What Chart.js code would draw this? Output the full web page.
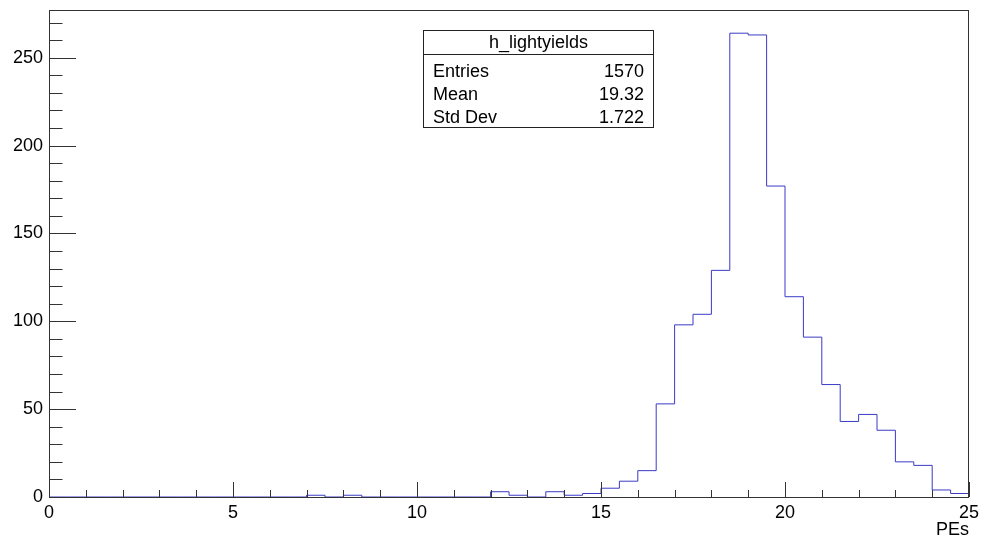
<!DOCTYPE html>
<html>
<head>
<meta charset="utf-8">
<script src="https://cdn.jsdelivr.net/npm/chart.js@4/dist/chart.umd.min.js"></script>
<style>
  html, body { margin: 0; padding: 0; background: #fff; }
  #wrap { width: 984px; height: 541px; position: relative; }
</style>
</head>
<body>
<div id="wrap"><canvas id="hist"></canvas></div>
<script>
// h_lightyields: 50 bins from 0 to 25 PEs
const binLow = 0;
const binWidth = 0.5;
const counts = [
  0, 0, 0, 0, 0, 0, 0, 0, 0, 0,
  0, 0, 0, 0, 1, 0, 1, 0, 0, 0,
  0, 0, 0, 0, 3, 1, 0, 3, 1, 2,
  5, 9, 15, 53, 98, 104, 129, 264, 263, 177,
  114, 91, 64, 43, 47, 38, 20, 18, 4, 2
];
const yTicks = [0, 50, 100, 150, 200, 250];
const xTicks = [0, 5, 10, 15, 20, 25];
const statsTitle = "h_lightyields";
const statsRows = [["Entries", "1570"], ["Mean", "19.32"], ["Std Dev", "1.722"]];

const FONT = "'Liberation Sans', Arial, sans-serif";

// step outline: one point per left bin edge, plus the right edge of the last bin
let points = counts.map((c, i) => ({ x: binLow + i * binWidth, y: c }));
points.push({ x: binLow + counts.length * binWidth, y: counts[counts.length - 1] });

// ROOT style frame, inside ticks and stats box
const rootFrame = {
    id: 'rootFrame',
    afterDraw(chart) {
        const ctx = chart.ctx;
        const a = chart.chartArea;
        const xs = chart.scales.x, ys = chart.scales.y;
        ctx.save();
        ctx.strokeStyle = "#333";
        ctx.lineWidth = 1;
        ctx.strokeRect(a.left + 0.5, a.top + 0.5, a.right - a.left - 1, a.bottom - a.top);

        ctx.beginPath();
        for (let v = 0; v <= 25; v += 1) {
            let px = Math.round(xs.getPixelForValue(v)) + 0.5;
            let len = (v % 5 === 0) ? 15 : 7;
            ctx.moveTo(px, a.bottom);
            ctx.lineTo(px, a.bottom - len);
        }
        for (let v = 0; v <= 270; v += 10) {
            let py = Math.round(ys.getPixelForValue(v)) + 0.5;
            let len = (v % 50 === 0) ? 27 : 13.5;
            ctx.moveTo(a.left, py);
            ctx.lineTo(a.left + len, py);
        }
        ctx.stroke();

        // stats box
        const bx = 423.5, by = 30.5, bw = 230, bh = 97;
        ctx.fillStyle = "#fff";
        ctx.fillRect(bx, by, bw, bh);
        ctx.strokeStyle = "#222";
        ctx.strokeRect(bx, by, bw, bh);
        ctx.beginPath();
        ctx.moveTo(bx, 54.5);
        ctx.lineTo(bx + bw, 54.5);
        ctx.stroke();
        ctx.fillStyle = "#000";
        ctx.font = "18px " + FONT;
        ctx.textBaseline = "alphabetic";
        ctx.textAlign = "center";
        ctx.fillText(statsTitle, bx + bw / 2, 48);
        statsRows.forEach((r, i) => {
            let yb = 77 + i * 23;
            ctx.textAlign = "left";
            ctx.fillText(r[0], 433, yb);
            ctx.textAlign = "right";
            ctx.fillText(r[1], 644, yb);
        });
        ctx.restore();
    }
};

new Chart(document.getElementById('hist'), {
    type: 'line',
    data: {
        datasets: [{
            label: statsTitle,
            data: points,
            stepped: 'before',
            borderColor: "#3b3bc6",
            borderWidth: 1,
            pointRadius: 0,
            fill: false,
            tension: 0
        }]
    },
    options: {
        responsive: true,
        maintainAspectRatio: false,
        animation: false,
        layout: { padding: { top: 10, right: 15, left: 0, bottom: 0 } },
        plugins: {
            legend: { display: false },
            tooltip: { enabled: false }
        },
        scales: {
            x: {
                type: 'linear',
                min: 0,
                max: 25,
                grid: { display: false, drawTicks: false },
                border: { display: false },
                afterBuildTicks: s => { s.ticks = xTicks.map(v => ({ value: v })); },
                afterFit: s => { s.height = 44; s.paddingLeft = 0; s.paddingRight = 0; },
                ticks: {
                    autoSkip: false,
                    maxRotation: 0,
                    padding: 5,
                    color: "#000",
                    font: { family: FONT, size: 18 }
                },
                title: {
                    display: true,
                    text: "PEs",
                    align: 'end',
                    color: "#000",
                    padding: { top: 4, bottom: 0 },
                    font: { family: FONT, size: 18 }
                }
            },
            y: {
                min: 0,
                max: 277.2,
                grid: { display: false, drawTicks: false },
                border: { display: false },
                afterBuildTicks: s => { s.ticks = yTicks.map(v => ({ value: v })); },
                afterFit: s => { s.width = 49; s.paddingTop = 0; s.paddingBottom = 0; },
                ticks: {
                    autoSkip: false,
                    padding: 6,
                    color: "#000",
                    font: { family: FONT, size: 18 }
                }
            }
        }
    },
    plugins: [rootFrame]
});
</script>
</body>
</html>
